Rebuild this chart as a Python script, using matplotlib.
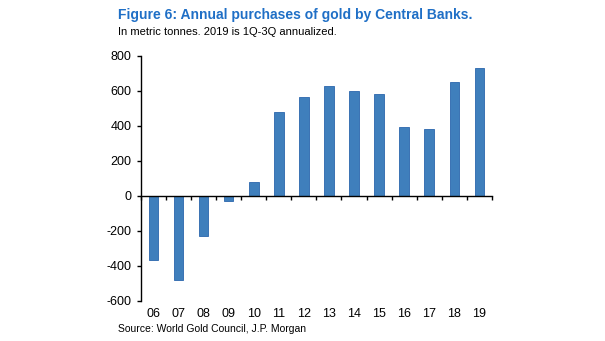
import numpy as np
import matplotlib.pyplot as plt
from matplotlib.ticker import FixedLocator, NullFormatter

plt.rcParams['font.family'] = ['Liberation Sans', 'DejaVu Sans']

years = ['06', '07', '08', '09', '10', '11', '12', '13', '14', '15', '16', '17', '18', '19']
purchases = [-365, -480, -230, -30, 77, 480, 567, 628, 598, 581, 392, 380, 653, 730]
y_ticks = [-600, -400, -200, 0, 200, 400, 600, 800]

fig = plt.figure(figsize=(6.05, 3.41), dpi=100)
ax = fig.add_axes([0.233, 0.118, 0.58, 0.718])

x = np.arange(len(years))
ax.bar(x, purchases, width=0.38, color='#3f7fbc', edgecolor='#2b66ad', linewidth=0.6)

ax.set_xlim(-0.5, len(years) - 0.5)
ax.set_ylim(-600, 800)
ax.set_yticks(y_ticks)
ax.set_yticklabels([str(v) for v in y_ticks], fontsize=9)

# x axis drawn at zero, ticks between categories
ax.spines['top'].set_visible(False)
ax.spines['right'].set_visible(False)
ax.spines['bottom'].set_position(('data', 0))
ax.spines['left'].set_linewidth(1.0)
ax.spines['bottom'].set_linewidth(1.0)
ax.xaxis.set_major_locator(FixedLocator(np.arange(-0.5, len(years), 1)))
ax.xaxis.set_major_formatter(NullFormatter())
ax.tick_params(axis='x', direction='out', length=3, width=1)
ax.tick_params(axis='y', direction='out', length=3, width=1, pad=4)

# category labels at bottom of the plot
for xi, lab in zip(x, years):
    ax.text(xi, -0.03, lab, transform=ax.get_xaxis_transform(),
            ha='center', va='top', fontsize=9)

fig.text(0.195, 0.955, 'Figure 6: Annual purchases of gold by Central Banks.',
         color='#1f6fc6', fontsize=10, fontweight='bold', ha='left', va='center')
fig.text(0.195, 0.905, 'In metric tonnes. 2019 is 1Q-3Q annualized.',
         fontsize=8, ha='left', va='center')
fig.text(0.195, 0.035, 'Source: World Gold Council, J.P. Morgan',
         fontsize=7.5, ha='left', va='center')

fig.savefig('out.png', dpi=100)
